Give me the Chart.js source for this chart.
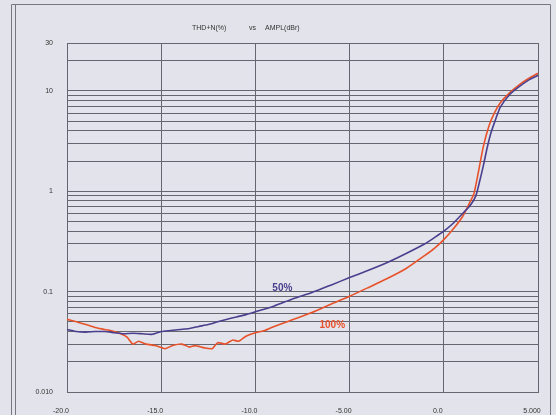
<!DOCTYPE html>
<html>
<head>
<meta charset="utf-8">
<script src="https://cdn.jsdelivr.net/npm/chart.js@4/dist/chart.umd.min.js"></script>
<style>
  html, body { margin: 0; padding: 0; background: #e3e3eb; }
  canvas { display: block; }
</style>
</head>
<body>
<canvas id="myChart" width="556" height="415"></canvas>
<script>
// THD+N (%) vs amplitude (dBr)
const ampl50 = [-20, -19.5, -19, -18.5, -18, -17.5, -17, -16.5, -16, -15.5, -15, -14.5, -14, -13.5, -13, -12.5, -12, -11.5, -11, -10.5, -10, -9, -8, -7, -6, -5, -4, -3, -2, -1, -0.5, 0, 0.5, 1.0, 1.4, 1.7, 1.9, 2.1, 2.3, 2.5, 2.75, 3.0, 3.5, 4.0, 4.5, 5.0];
const thd50 = [0.042, 0.040, 0.0395, 0.040, 0.040, 0.039, 0.038, 0.0385, 0.038, 0.0375, 0.040, 0.041, 0.042, 0.043, 0.045, 0.047, 0.050, 0.053, 0.056, 0.059, 0.063, 0.072, 0.085, 0.098, 0.116, 0.138, 0.163, 0.195, 0.24, 0.30, 0.345, 0.40, 0.48, 0.60, 0.72, 0.90, 1.25, 1.8, 2.7, 3.8, 5.2, 6.9, 9.2, 11.0, 12.8, 14.3];

const ampl100 = [-20, -19.5, -19, -18.5, -18, -17.5, -17, -16.8, -16.5, -16.2, -15.8, -15.3, -14.8, -14.4, -13.9, -13.5, -13.2, -12.7, -12.3, -12.0, -11.6, -11.2, -10.9, -10.5, -10.0, -9.5, -9, -8.2, -7, -6, -5, -4, -3, -2, -1, -0.5, 0, 0.5, 1.0, 1.3, 1.6, 1.85, 2.1, 2.4, 2.7, 3.0, 3.5, 4.0, 4.5, 5.0];
const thd100 = [0.053, 0.050, 0.047, 0.044, 0.042, 0.040, 0.037, 0.035, 0.030, 0.032, 0.030, 0.029, 0.027, 0.029, 0.030, 0.028, 0.029, 0.0275, 0.027, 0.031, 0.030, 0.033, 0.032, 0.036, 0.039, 0.041, 0.045, 0.051, 0.062, 0.075, 0.090, 0.11, 0.135, 0.17, 0.23, 0.27, 0.33, 0.42, 0.56, 0.72, 0.95, 1.6, 2.8, 4.5, 6.1, 7.6, 9.6, 11.5, 13.3, 15.0];

const seriesNames = ['50%', '100%'];
const xTicks = [-20, -15, -10, -5, 0, 5];
const xTickLabels = ['-20.0', '-15.0', '-10.0', '-5.00', '0.0', '5.000'];
const yGridValues = [0.01, 0.02, 0.03, 0.04, 0.05, 0.06, 0.07, 0.08, 0.09,
  0.1, 0.2, 0.3, 0.4, 0.5, 0.6, 0.7, 0.8, 0.9,
  1, 2, 3, 4, 5, 6, 7, 8, 9, 10, 20, 30];
const yLabelValues = [0.01, 0.1, 1, 10, 30];
const yLabelTexts = ['0.010', '0.1', '1', '10', '30'];
const chartTitle = ['THD+N(%)', 'vs', 'AMPL(dBr)'];

const blue = '#4a3f8e';
const red = '#e8522a';
const gridCol = '#666670';

function toPoints(xs, ys) {
  return xs.map((x, i) => ({ x: x, y: ys[i] }));
}

// paper background, page frame, title and series labels
const decor = {
  id: 'decor',
  beforeDraw(chart) {
    const c = chart.ctx;
    c.save();
    c.fillStyle = '#e3e3eb';
    c.fillRect(0, 0, chart.width, chart.height);
    c.strokeStyle = '#77777f';
    c.lineWidth = 1;
    c.beginPath();
    c.moveTo(11.5, 4.5); c.lineTo(11.5, 415);
    c.moveTo(15.5, 4.5); c.lineTo(15.5, 415);
    c.moveTo(11.5, 4.5); c.lineTo(550.5, 4.5);
    c.moveTo(550.5, 4.5); c.lineTo(550.5, 415);
    c.stroke();
    c.restore();
  },
  afterDraw(chart) {
    const c = chart.ctx;
    const xs = chart.scales.x, ys = chart.scales.y;
    c.save();
    c.fillStyle = '#333';
    c.font = '7px "Liberation Sans", Arial, sans-serif';
    c.textBaseline = 'middle';
    c.fillText(chartTitle[0], 192, 28);
    c.fillText(chartTitle[1], 249, 28);
    c.fillText(chartTitle[2], 265, 28);

    c.font = 'bold 10px "Liberation Sans", Arial, sans-serif';
    c.fillStyle = blue;
    c.fillText(seriesNames[0], xs.getPixelForValue(-9.1), ys.getPixelForValue(0.109));
    c.fillStyle = red;
    c.fillText(seriesNames[1], xs.getPixelForValue(-6.6), ys.getPixelForValue(0.046));
    c.restore();
  }
};

const ctx = document.getElementById('myChart');
const myChart = new Chart(ctx, {
  type: 'line',
  data: {
    datasets: [{
      label: seriesNames[0],
      data: toPoints(ampl50, thd50),
      borderColor: blue,
      borderWidth: 1.6,
      pointRadius: 0,
      tension: 0.2,
      fill: false
    }, {
      label: seriesNames[1],
      data: toPoints(ampl100, thd100),
      borderColor: red,
      borderWidth: 1.6,
      pointRadius: 0,
      tension: 0.2,
      fill: false
    }]
  },
  options: {
    responsive: false,
    animation: false,
    layout: { padding: { left: 0, right: 18, top: 43, bottom: 0 } },
    plugins: {
      legend: { display: false },
      tooltip: { enabled: false }
    },
    scales: {
      x: {
        type: 'linear',
        min: -20,
        max: 5,
        afterBuildTicks(scale) {
          scale.ticks = xTicks.map(v => ({ value: v }));
        },
        afterFit(scale) {
          scale.height = 23;
          scale.paddingLeft = 0;
          scale.paddingRight = 0;
        },
        grid: { color: gridCol, lineWidth: 1, drawTicks: false },
        border: { color: gridCol },
        ticks: {
          padding: 15,
          labelOffset: -6,
          maxRotation: 0,
          color: '#333',
          font: { family: '"Liberation Sans", Arial, sans-serif', size: 7 },
          callback: (v) => {
            const i = xTicks.indexOf(v);
            return i >= 0 ? xTickLabels[i] : '';
          }
        }
      },
      y: {
        type: 'logarithmic',
        min: 0.01,
        max: 30,
        afterBuildTicks(scale) {
          scale.ticks = yGridValues.map(v => ({ value: v }));
        },
        afterFit(scale) { scale.width = 67; },
        grid: { color: gridCol, lineWidth: 1, drawTicks: false },
        border: { color: gridCol },
        ticks: {
          padding: 14,
          autoSkip: false,
          color: '#333',
          font: { family: '"Liberation Sans", Arial, sans-serif', size: 7 },
          callback: (v) => {
            const i = yLabelValues.findIndex(t => Math.abs(t - v) < v * 1e-6);
            return i >= 0 ? yLabelTexts[i] : '';
          }
        }
      }
    }
  },
  plugins: [decor]
});
</script>
</body>
</html>
